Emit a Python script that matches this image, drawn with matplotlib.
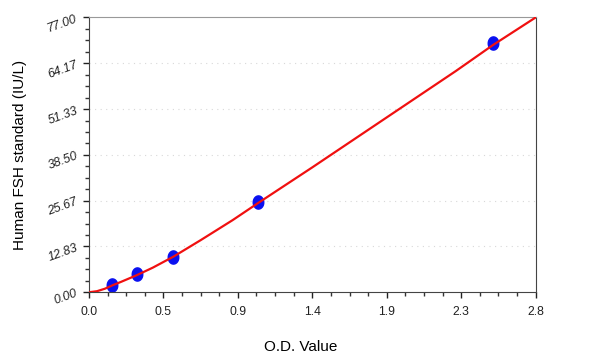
import numpy as np
import matplotlib
matplotlib.use("Agg")
import matplotlib.pyplot as plt
from matplotlib.ticker import AutoMinorLocator, FixedLocator

# standards (O.D. vs concentration)
od_points = [0.142, 0.303, 0.528, 1.061, 2.534]
fsh_points = [2.0, 5.0, 10.0, 25.2, 69.9]

# fitted curve
curve_od = [0, 0.05, 0.1, 0.15, 0.2, 0.3, 0.4, 0.53, 0.7, 0.9, 1.06, 1.4, 1.9, 2.3, 2.53, 2.8]
curve_fsh = [0, 0.3, 1.0, 2.0, 2.9, 4.8, 6.9, 10.0, 14.6, 20.2, 25.0, 35.0, 50.0, 62.0, 69.2, 77.0]

x_ticks = [0, 2.8 / 6, 2.8 * 2 / 6, 2.8 * 3 / 6, 2.8 * 4 / 6, 2.8 * 5 / 6, 2.8]
x_labels = ["0.0", "0.5", "0.9", "1.4", "1.9", "2.3", "2.8"]
y_ticks = [0, 77 / 6, 77 * 2 / 6, 77 * 3 / 6, 77 * 4 / 6, 77 * 5 / 6, 77]
y_labels = ["0.00", "12.83", "25.67", "38.50", "51.33", "64.17", "77.00"]

plt.rcParams['font.family'] = ['Liberation Sans', 'DejaVu Sans']

fig = plt.figure(figsize=(5.94, 3.56), dpi=100)
ax = fig.add_axes([0.1498, 0.179, 0.752, 0.772])

# slightly tall oval marker like the original
t = np.linspace(0, 2 * np.pi, 40)
oval = list(zip(0.8 * np.cos(t), np.sin(t)))

ax.plot(od_points, fsh_points, linestyle='none', marker=oval, color='#0a10f0', markersize=9.5, zorder=2)
ax.plot(curve_od, curve_fsh, '-', color='#f01010', linewidth=1.6, zorder=3)

ax.set_xlim(0, 2.8)
ax.set_ylim(0, 77)

ax.xaxis.set_major_locator(FixedLocator(x_ticks))
ax.set_xticklabels(x_labels)
ax.yaxis.set_major_locator(FixedLocator(y_ticks))
ax.set_yticklabels(y_labels, rotation=20, style='italic')
ax.xaxis.set_minor_locator(AutoMinorLocator(4))
ax.yaxis.set_minor_locator(AutoMinorLocator(4))

ax.tick_params(which='major', direction='out', length=4, width=1, colors='#222222', labelsize=8.8)
ax.tick_params(which='minor', direction='out', length=3, width=1, color='#333333')
ax.tick_params(axis='x', pad=6)
ax.tick_params(axis='y', pad=3)

for y in y_ticks[1:-1]:
    ax.axhline(y, color='#d8d8d8', linestyle=(0, (1, 4)), linewidth=0.8, zorder=1)

for side in ['left', 'bottom', 'right']:
    ax.spines[side].set_color('#444444')
ax.spines['top'].set_color('#999999')

ax.set_xlabel("O.D. Value", fontsize=11)
ax.xaxis.set_label_coords(0.474, -0.175)
ax.set_ylabel("Human FSH standard (IU/L)", fontsize=11, labelpad=14)

fig.savefig("out.png", dpi=100)
